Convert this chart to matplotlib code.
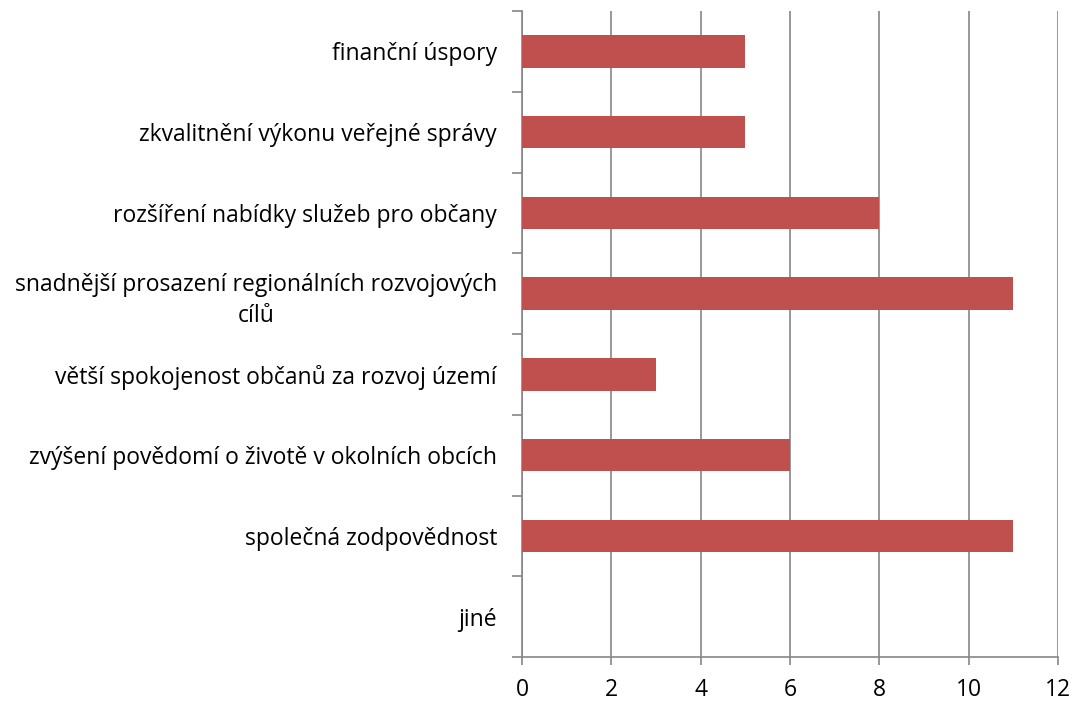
import matplotlib
matplotlib.use("Agg")
import matplotlib.pyplot as plt

# categories listed top to bottom as in the chart
categories = [
    "finanční úspory",
    "zkvalitnění výkonu veřejné správy",
    "rozšíření nabídky služeb pro občany",
    "snadnější prosazení regionálních rozvojových\ncílů",
    "větší spokojenost občanů za rozvoj území",
    "zvýšení povědomí o životě v okolních obcích",
    "společná zodpovědnost",
    "jiné",
]
values = [5, 5, 8, 11, 3, 6, 11, 0]
x_ticks = [0, 2, 4, 6, 8, 10, 12]

BAR_COLOR = "#C0504D"
GRID_COLOR = "#868686"

plt.rcParams["font.family"] = ["Open Sans", "DejaVu Sans"]

fig = plt.figure(figsize=(10.76, 7.04), dpi=100)
ax = fig.add_axes([522 / 1076, 1 - 657 / 704, (1058 - 522) / 1076, (657 - 11) / 704])

n = len(categories)
pos = list(range(n))
ax.barh(pos, values, height=0.4, color=BAR_COLOR, zorder=3)

ax.set_ylim(n - 0.5, -0.5)
ax.set_xlim(0, 12)
ax.set_xticks(x_ticks)
ax.set_xticklabels([str(t) for t in x_ticks], fontsize=16.5)

# category ticks sit between the bars
ax.set_yticks([p - 0.5 for p in pos] + [n - 0.5])
ax.set_yticklabels([])
ax.set_yticks(pos, minor=True)
ax.set_yticklabels(categories, minor=True, fontsize=16.5, multialignment="center",
                   linespacing=1.4)
ax.tick_params(axis="y", which="minor", length=0, pad=18)
ax.tick_params(axis="y", which="major", length=7, width=1.2, color=GRID_COLOR, direction="out")
ax.tick_params(axis="x", length=6, width=1.2, color=GRID_COLOR, direction="out", pad=9)

ax.grid(axis="x", color=GRID_COLOR, linewidth=1.2, zorder=0)
for side in ["top", "right"]:
    ax.spines[side].set_visible(False)
for side in ["left", "bottom"]:
    ax.spines[side].set_color(GRID_COLOR)
    ax.spines[side].set_linewidth(1.2)

fig.savefig("out.png", dpi=100)
